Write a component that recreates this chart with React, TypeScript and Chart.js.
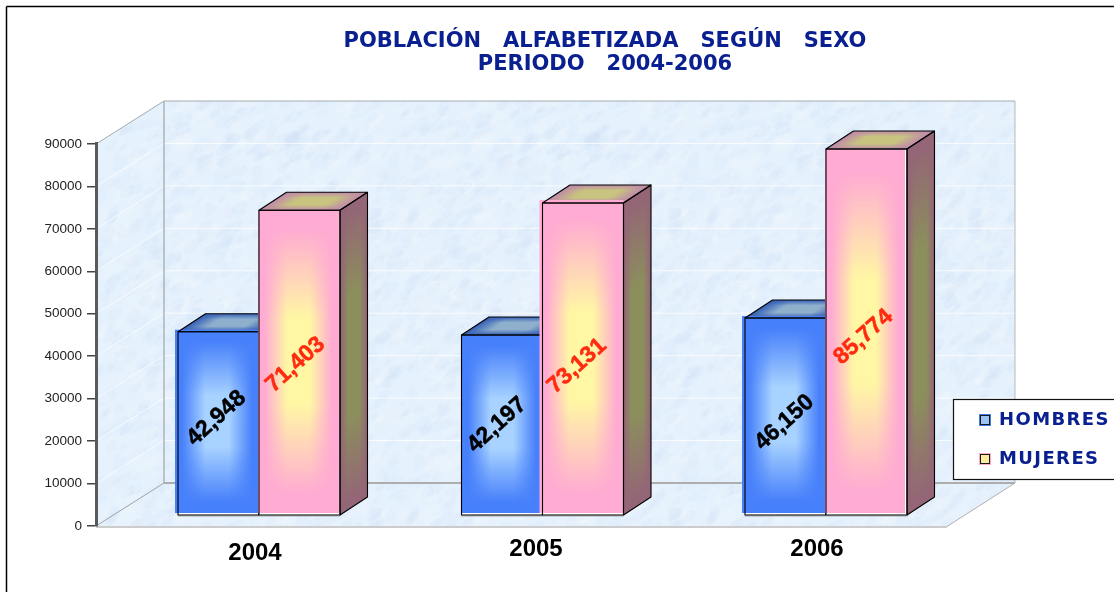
import React, { useEffect, useRef } from "react";
import { Chart, registerables } from "chart.js";

Chart.register(...registerables);

const categories = ["2004", "2005", "2006"];
const hombres = [42948, 42197, 46150];
const mujeres = [71403, 73131, 85774];
const yTicks = { min: 0, max: 90000, step: 10000 };
const titleLines = ["POBLACIÓN   ALFABETIZADA   SEGÚN   SEXO", "PERIODO   2004-2006"];
const seriesNames = ["HOMBRES", "MUJERES"];

// style tables for the 3D look
const W = 1114, H = 592;
const AREA = { left: 96, right: 947, top: 144, bottom: 526 };
const WALL = { dx: 68, dy: 43 };
const DEPTH = { dx: 27.5, dy: 18 };
const fillShift = [[-3, 0, -3], [-1, -3, -1]];
const fillLift = [[-2, 0, -2], [0, -3, 0]];
const fillRight = [[0, 0, 0], [-1, 0, -2]];
const labelShift = [[[0, -2], [-3, 3], [1, 9]], [[-1, 5], [-3, 10], [0, 8]]];
const looks = [
  { edge: "#4780fb", center: "#a8d2ff", topEdge: "#3a65b8", topCenter: "#8fb0cc", sideEdge: "#2f5aa8", sideCenter: "#6f8fb8", text: "#000000" },
  { edge: "#ffabd3", center: "#fff7a4", topEdge: "#c08da6", topCenter: "#c8c480", sideEdge: "#946577", sideCenter: "#8b8f5c", text: "#ff2a10" },
];
const FRONT_STOPS = { h: [0.08, 0.36], v: [0.06, 0.36] };
const FACE_STOPS = { h: [0.02, 0.28], v: [0.02, 0.3] };

function makeTexture() {
  const c = document.createElement("canvas");
  c.width = c.height = 300;
  const g = c.getContext("2d")!;
  g.fillStyle = "#e5f1fc";
  g.fillRect(0, 0, 300, 300);
  let s = 12345;
  const rnd = () => ((s = (s * 1103515245 + 12345) & 0x7fffffff) / 0x7fffffff);
  for (let i = 0; i < 1600; i++) {
    const x = rnd() * 300, y = rnd() * 300, r = 2 + rnd() * 8;
    g.fillStyle = rnd() > 0.45 ? "rgba(255,255,255,0.10)" : "rgba(200,220,242,0.10)";
    for (const ox of [-300, 0, 300]) for (const oy of [-300, 0, 300]) {
      g.beginPath();
      g.ellipse(x + ox, y + oy, r, r * 0.55, -0.7, 0, Math.PI * 2);
      g.fill();
    }
  }
  return c;
}

function hexAlpha(hex: string, a: number) {
  const n = parseInt(hex.slice(1), 16);
  return `rgba(${n >> 16},${(n >> 8) & 255},${n & 255},${a})`;
}

function band(g: CanvasGradient, color: string, st: number[]) {
  g.addColorStop(0, hexAlpha(color, 0));
  g.addColorStop(st[0], hexAlpha(color, 0));
  g.addColorStop(st[1], hexAlpha(color, 1));
  g.addColorStop(1 - st[1], hexAlpha(color, 1));
  g.addColorStop(1 - st[0], hexAlpha(color, 0));
  g.addColorStop(1, hexAlpha(color, 0));
}

function glowFace(ctx: CanvasRenderingContext2D, x: number, y: number, w: number, h: number, edge: string, center: string, stops: { h: number[]; v: number[] }) {
  ctx.fillStyle = edge;
  ctx.fillRect(x, y, w, h);
  const c = document.createElement("canvas");
  c.width = Math.max(1, Math.ceil(w));
  c.height = Math.max(1, Math.ceil(h));
  const g = c.getContext("2d")!;
  const gh = g.createLinearGradient(0, 0, c.width, 0);
  band(gh, center, stops.h);
  g.fillStyle = gh;
  g.fillRect(0, 0, c.width, c.height);
  g.globalCompositeOperation = "destination-in";
  const gv = g.createLinearGradient(0, 0, 0, c.height);
  band(gv, center, stops.v);
  g.fillStyle = gv;
  g.fillRect(0, 0, c.width, c.height);
  ctx.drawImage(c, x, y, w, h);
}

function poly(ctx: CanvasRenderingContext2D, pts: number[][]) {
  ctx.beginPath();
  pts.forEach((p, i) => (i ? ctx.lineTo(p[0], p[1]) : ctx.moveTo(p[0], p[1])));
  ctx.closePath();
}

function seg(ctx: CanvasRenderingContext2D, x0: number, y0: number, x1: number, y1: number, color: string, lw: number) {
  ctx.strokeStyle = color;
  ctx.lineWidth = lw;
  ctx.beginPath();
  ctx.moveTo(x0, y0);
  ctx.lineTo(x1, y1);
  ctx.stroke();
}

const scene = {
  id: "scene",
  afterLayout(chart: any) {
    const t = chart.titleBlock;
    t.left = 96; t.right = W;
    const b = chart.scales.xb;
    b._startPixel = 259 - 141.75; b._length = 850.5;
    const v = chart.scales.x;
    v._startPixel = 255 - 140.5; v._length = 843;
  },
  beforeDraw(chart: any) {
    const ctx: CanvasRenderingContext2D = chart.ctx;
    const { left, right, top, bottom } = AREA;
    const { dx, dy } = WALL;
    ctx.save();
    ctx.fillStyle = "#ffffff";
    ctx.fillRect(0, 0, W, H);
    seg(ctx, 6.5, H, 6.5, 6.5, "#000000", 1.5);
    seg(ctx, 6.5, 6.5, W, 6.5, "#000000", 1.5);

    const pat = ctx.createPattern(makeTexture(), "repeat")!;
    ctx.fillStyle = pat;
    poly(ctx, [[left + dx, top - dy], [right + dx, top - dy], [right + dx, bottom - dy], [right, bottom], [left, bottom], [left, top]]);
    ctx.fill();

    const yS = chart.scales.y;
    for (let v = yTicks.min + yTicks.step; v < yTicks.max; v += yTicks.step) {
      const py = yS.getPixelForValue(v);
      seg(ctx, left, py, left + dx, py - dy, "rgba(255,255,255,0.7)", 1);
      seg(ctx, left + dx, py - dy, right + dx, py - dy, "rgba(255,255,255,0.8)", 1);
    }
    seg(ctx, left + dx, top - dy, right + dx, top - dy, "#a3acb3", 1);
    seg(ctx, left, top, left + dx, top - dy, "#a3acb3", 1);
    seg(ctx, left + dx, top - dy, left + dx, bottom - dy, "#9fa4a8", 1.2);
    seg(ctx, left + dx, bottom - dy, right + dx, bottom - dy, "#adadad", 2);
    seg(ctx, right + dx, top - dy, right + dx, bottom - dy, "#b5b9bc", 1);
    seg(ctx, left, bottom, left + dx, bottom - dy, "#a3a3a3", 1);
    seg(ctx, right, bottom + 0.5, right + dx, bottom - dy, "#b0b0b0", 1);
    seg(ctx, left, bottom + 1, right, bottom + 1, "#cccccc", 2);
    ctx.restore();

    const items = chart.scales.x.getLabelItems(chart.chartArea);
    if (!chart.$nudged) {
      items[0].options.translation[1] += 4;
      chart.$nudged = true;
    }
  },
  afterDatasetsDraw(chart: any) {
    const ctx: CanvasRenderingContext2D = chart.ctx;
    const { dx, dy } = DEPTH;
    [0, 1].forEach((si) => {
      const look = looks[si];
      chart.getDatasetMeta(si).data.forEach((bar: any, i: number) => {
        const x = bar.x - bar.width / 2, w = bar.width, y = bar.y, b = bar.base, h = b - y;
        const sx = fillShift[si][i], sy = fillLift[si][i], sr = fillRight[si][i];
        ctx.save();
        // right face
        ctx.save();
        ctx.transform(1, -dy / dx, 0, 1, x + w, y);
        glowFace(ctx, 0, 0, dx, h, look.sideEdge, look.sideCenter, FACE_STOPS);
        ctx.restore();
        // top face
        ctx.save();
        ctx.transform(1, 0, -dx / dy, 1, x + dx, y - dy);
        glowFace(ctx, 0, 0, w, dy, look.topEdge, look.topCenter, FACE_STOPS);
        ctx.restore();
        // front face
        ctx.fillStyle = "#ffffff";
        ctx.fillRect(x, y, w, h);
        glowFace(ctx, x + sx, y + sy, w - sx + sr, h - 2 - sy, look.edge, look.center, FRONT_STOPS);
        // outlines
        ctx.strokeStyle = "#000000";
        ctx.lineWidth = 1.1;
        ctx.lineJoin = "round";
        ctx.strokeRect(x, y, w, h);
        poly(ctx, [[x, y], [x + dx, y - dy], [x + w + dx, y - dy], [x + w, y]]);
        ctx.stroke();
        poly(ctx, [[x + w, y], [x + w + dx, y - dy], [x + w + dx, b - dy], [x + w, b]]);
        ctx.stroke();
        seg(ctx, x, b + 0.5, x + w, b + 0.5, "#666666", 1.6);
        ctx.restore();
      });
    });
    // value labels
    [0, 1].forEach((si) => {
      const ds = chart.data.datasets[si];
      chart.getDatasetMeta(si).data.forEach((bar: any, i: number) => {
        ctx.save();
        ctx.translate(bar.x + (si ? -3 : -2) + labelShift[si][i][0], (bar.y + bar.base) / 2 - 3 + labelShift[si][i][1]);
        ctx.rotate((-42 * Math.PI) / 180);
        ctx.font = 'bold 23px "Liberation Sans"';
        ctx.fillStyle = looks[si].text;
        ctx.strokeStyle = looks[si].text;
        ctx.lineWidth = 0.5;
        ctx.textAlign = "center";
        ctx.textBaseline = "middle";
        ctx.fillText(ds.data[i].toLocaleString("en-US"), 0, 0);
        ctx.strokeText(ds.data[i].toLocaleString("en-US"), 0, 0);
        ctx.restore();
      });
    });
    // legend
    ctx.save();
    ctx.fillStyle = "#ffffff";
    ctx.fillRect(953.5, 399.5, 170, 80);
    ctx.strokeStyle = "#111111";
    ctx.lineWidth = 1.2;
    ctx.strokeRect(953.5, 399.5, 170, 80);
    const keyY = [420, 459];
    const keyOuter = ["#3f7be8", "#ffa9cf"];
    const keyInner = ["#9cc4f4", "#fdeca0"];
    seriesNames.forEach((n, i) => {
      const ky = keyY[i];
      ctx.fillStyle = keyOuter[i];
      ctx.fillRect(979, ky - 6, 12, 12);
      ctx.fillStyle = keyInner[i];
      ctx.fillRect(981, ky - 4, 8, 8);
      ctx.strokeStyle = "#1a1a1a";
      ctx.lineWidth = 1;
      ctx.strokeRect(980.5, ky - 4.5, 9, 9);
      ctx.font = 'bold 18px "DejaVu Sans"';
      (ctx as any).letterSpacing = "1.4px";
      ctx.fillStyle = "#0a2090";
      ctx.textAlign = "left";
      ctx.textBaseline = "middle";
      ctx.fillText(n, 999, ky);
      (ctx as any).letterSpacing = "0px";
    });
    ctx.restore();
  },
};

export default function App() {
  const ref = useRef<HTMLCanvasElement>(null);
  useEffect(() => {
    const chart = new Chart(ref.current!, {
      type: "bar",
      data: {
        labels: categories,
        datasets: [
          { label: seriesNames[0], data: hombres, xAxisID: "xb", yAxisID: "yb", backgroundColor: looks[0].edge, borderWidth: 0, categoryPercentage: 0.5714, barPercentage: 1 },
          { label: seriesNames[1], data: mujeres, xAxisID: "xb", yAxisID: "yb", backgroundColor: looks[1].edge, borderWidth: 0, categoryPercentage: 0.5714, barPercentage: 1 },
        ],
      } as any,
      plugins: [scene as any],
      options: {
        animation: false,
        responsive: false,
        devicePixelRatio: 1,
        layout: { padding: { left: 0, right: W - AREA.right, top: 0, bottom: 0 } },
        plugins: {
          legend: { display: false },
          tooltip: { enabled: false },
          title: {
            display: true,
            text: titleLines,
            color: "#0a2090",
            font: { family: "DejaVu Sans", weight: "bold", size: 21, lineHeight: 1.095 },
            padding: { top: 30, bottom: AREA.top - 30 - 46 },
          },
        },
        scales: {
          x: {
            type: "category",
            position: "bottom",
            grid: { display: false },
            border: { display: false },
            afterFit: (s: any) => { s.height = H - AREA.bottom; },
            ticks: { color: "#000000", font: { family: "Liberation Sans", weight: "bold", size: 24 }, padding: 1, maxRotation: 0 },
          },
          xb: { type: "category", position: "bottom", display: false, afterFit: (s: any) => { s.height = 0; } },
          y: {
            position: "left",
            min: yTicks.min,
            max: yTicks.max,
            afterFit: (s: any) => { s.width = AREA.left; },
            ticks: { stepSize: yTicks.step, color: "#222222", padding: 5, font: { family: "Liberation Sans", size: 13.5 }, callback: (v: any) => String(v) },
            grid: { drawOnChartArea: false, drawTicks: true, tickLength: 9, color: "#444444", lineWidth: 1.5 },
            border: { color: "#5a5a5a", width: 3 },
          },
          yb: { position: "left", display: false, min: -2578, max: 86947 },
        },
      } as any,
    });
    return () => chart.destroy();
  }, []);
  return (
    <div style={{ position: "absolute", left: 0, top: 0, width: W, height: H }}>
      <canvas ref={ref} width={W} height={H} style={{ display: "block" }} />
    </div>
  );
}
